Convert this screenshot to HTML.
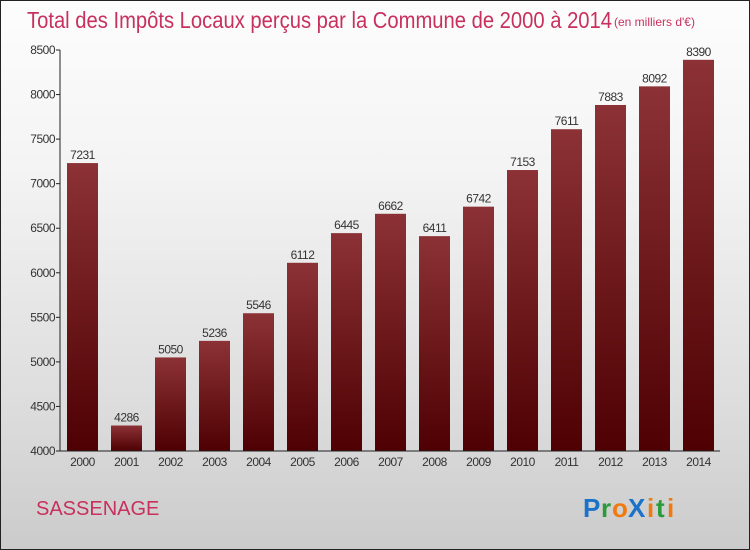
<!DOCTYPE html>
<html><head><meta charset="utf-8"><style>
body{margin:0;width:750px;height:550px;overflow:hidden;font-family:"Liberation Sans",sans-serif}
#wrap{position:absolute;left:0;top:0;width:748px;height:548px;border:1px solid #222;background:linear-gradient(#fdfdfd,#f4f4f4 30%,#dcdcdc 75%,#cbcbcb)}
</style></head><body>
<div id="wrap">
<svg id="svg" width="750" height="550" style="position:absolute;left:-1px;top:-1px">
<defs><linearGradient id="bg" x1="0" y1="0" x2="0" y2="1"><stop offset="0" stop-color="#8c3236"/><stop offset="1" stop-color="#4e0002"/></linearGradient></defs>
<text x="27" y="28" font-size="23" fill="#c8305e" textLength="585" lengthAdjust="spacingAndGlyphs">Total des Impôts Locaux perçus par la Commune de 2000 à 2014</text>
<text x="614" y="26" font-size="12" fill="#c8305e">(en milliers d'€)</text>
<g id="plot"></g>
<text x="36" y="515" font-size="20" fill="#c8305e">SASSENAGE</text>
<g font-size="26" font-weight="bold" font-family="Liberation Sans,sans-serif">
<text x="583" y="517" fill="#1a73c8">P</text><text x="601" y="517" fill="#2a9a3a">r</text><text x="612" y="517" fill="#f07a10">o</text><text x="628" y="517" fill="#1a73c8">X</text><text x="647" y="517" fill="#f07a10">i</text><text x="656" y="517" fill="#2a9a3a">t</text><text x="667" y="517" fill="#f07a10">i</text></g>
</svg></div>
<script>
const years=["2000","2001","2002","2003","2004","2005","2006","2007","2008","2009","2010","2011","2012","2013","2014"];
const values=[7231,4286,5050,5236,5546,6112,6445,6662,6411,6742,7153,7611,7883,8092,8390];
const yTicks=[4000,4500,5000,5500,6000,6500,7000,7500,8000,8500];
const NS="http://www.w3.org/2000/svg";
const g=document.getElementById('plot');
const y0=451,yMin=4000,yMax=8500,yTop=50;
const y=v=>y0-(v-yMin)/(yMax-yMin)*(y0-yTop);
const x=i=>67+i*44;
function mk(t,a){const e=document.createElementNS(NS,t);for(const k in a)e.setAttribute(k,a[k]);g.appendChild(e);return e;}
yTicks.forEach(v=>{
 const l=mk('line',{x1:56,x2:60,y1:y(v),y2:y(v),stroke:'#222'});
 
 
 const t=mk('text',{x:55,y:y(v)+4,'font-size':12,fill:'#333','text-anchor':'end','letter-spacing':'-0.5'});t.textContent=v;
 
 
});
values.forEach((v,i)=>{
 const r=mk('rect',{x:x(i),y:y(v),width:31,height:y0-y(v),fill:'url(#bg)'});
 
 
 const t=mk('text',{x:x(i)+15.5,y:y(v)-4,'font-size':12,fill:'#333','text-anchor':'middle','letter-spacing':'-0.5'});t.textContent=v;
 
 
 const xl=mk('text',{x:x(i)+15.5,y:466,'font-size':12,fill:'#333','text-anchor':'middle','letter-spacing':'-0.5'});xl.textContent=years[i];
 
 
});
const ya=mk('line',{x1:60,x2:60,y1:y(yMax),y2:y0,stroke:'#222'});


const xa=mk('line',{x1:60,x2:720,y1:y0,y2:y0,stroke:'#222'});


</script>
</body></html>
